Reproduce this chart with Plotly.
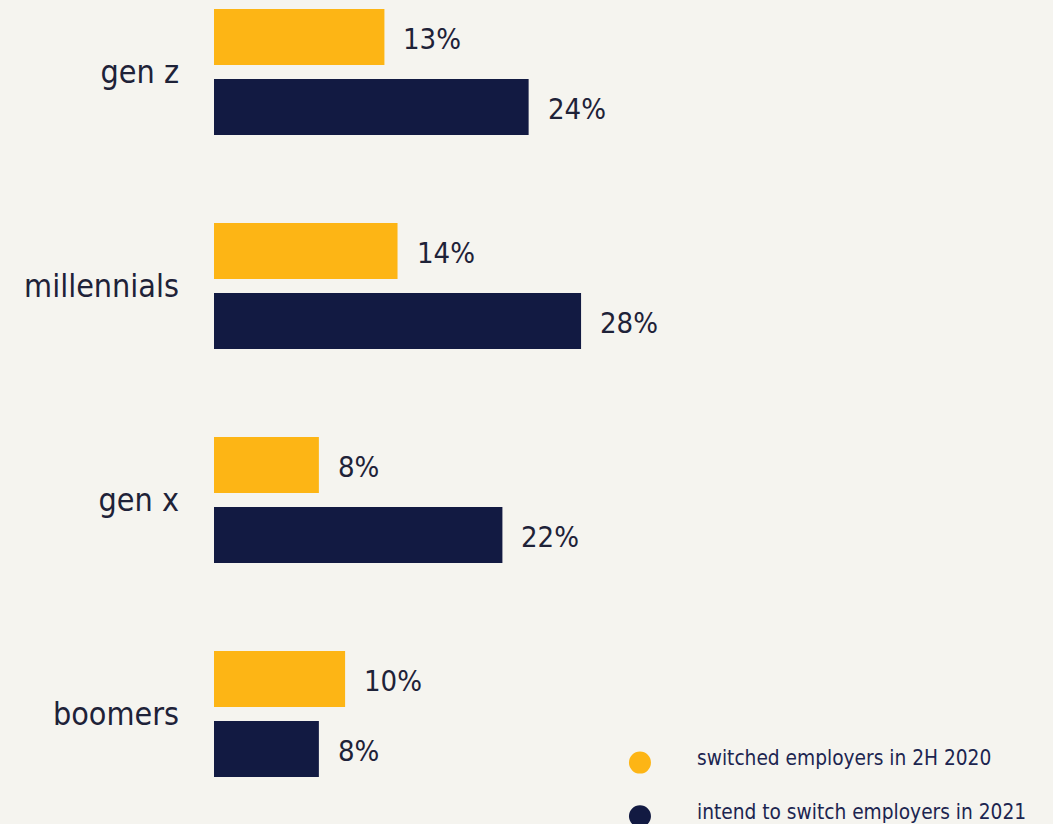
import plotly.graph_objects as go

# Share of workers by generation
generations = ["gen z", "millennials", "gen x", "boomers"]
switched_2h2020 = [13, 14, 8, 10]
intend_2021 = [24, 28, 22, 8]
series_names = ["switched employers in 2H 2020", "intend to switch employers in 2021"]

YELLOW = "#FDB515"
NAVY = "#121A42"
BG = "#F5F4EF"
TEXT = "#1E2238"
KEY_TEXT = "#1C2550"
FONT = "DejaVu Sans Condensed, DejaVu Sans"

fig = go.Figure()
for name, values, color in zip(series_names, [switched_2h2020, intend_2021], [YELLOW, NAVY]):
    fig.add_trace(go.Bar(
        y=generations, x=values, orientation="h", name=name,
        marker=dict(color=color, line=dict(width=0)),
        showlegend=False, hoverinfo="skip",
    ))

# Value labels to the right of each bar
for g, a, b in zip(generations, switched_2h2020, intend_2021):
    fig.add_annotation(x=a, y=g, text=f"{a}%", showarrow=False,
                       xanchor="left", xshift=17, yshift=33,
                       font=dict(size=29, color=TEXT, family=FONT))
    fig.add_annotation(x=b, y=g, text=f"{b}%", showarrow=False,
                       xanchor="left", xshift=17, yshift=-37,
                       font=dict(size=29, color=TEXT, family=FONT))

# Key in the lower right: a filled circle and a caption per series
key_rows_y = [0.0745, 0.0095]   # paper fraction of the circle centres
for name, color, ky in zip(series_names, [YELLOW, NAVY], key_rows_y):
    fig.add_shape(type="circle", xref="paper", yref="paper",
                  xsizemode="pixel", ysizemode="pixel",
                  xanchor=0.5077, yanchor=ky,
                  x0=-11, x1=11, y0=-11, y1=11,
                  fillcolor=color, line=dict(width=0))
    fig.add_annotation(xref="paper", yref="paper", x=0.5733, y=ky + 0.005,
                       xanchor="left", yanchor="middle", showarrow=False,
                       text=name, font=dict(size=20.7, color=KEY_TEXT, family=FONT))

fig.update_layout(
    width=1053, height=824,
    margin=dict(l=214, r=0, t=0, b=0, autoexpand=False),
    paper_bgcolor=BG, plot_bgcolor=BG,
    font=dict(family=FONT, color=TEXT),
    barmode="group", bargap=0.346, bargroupgap=0.2,
    xaxis=dict(range=[0, 64], visible=False, fixedrange=True),
    yaxis=dict(
        type="category", range=[3.514, -0.336],
        showgrid=False, zeroline=False, showline=False,
        ticks="", ticklabelstandoff=34,
        tickfont=dict(size=32, color=TEXT, family=FONT),
    ),
    showlegend=False,
)

fig.write_html("out.html")
